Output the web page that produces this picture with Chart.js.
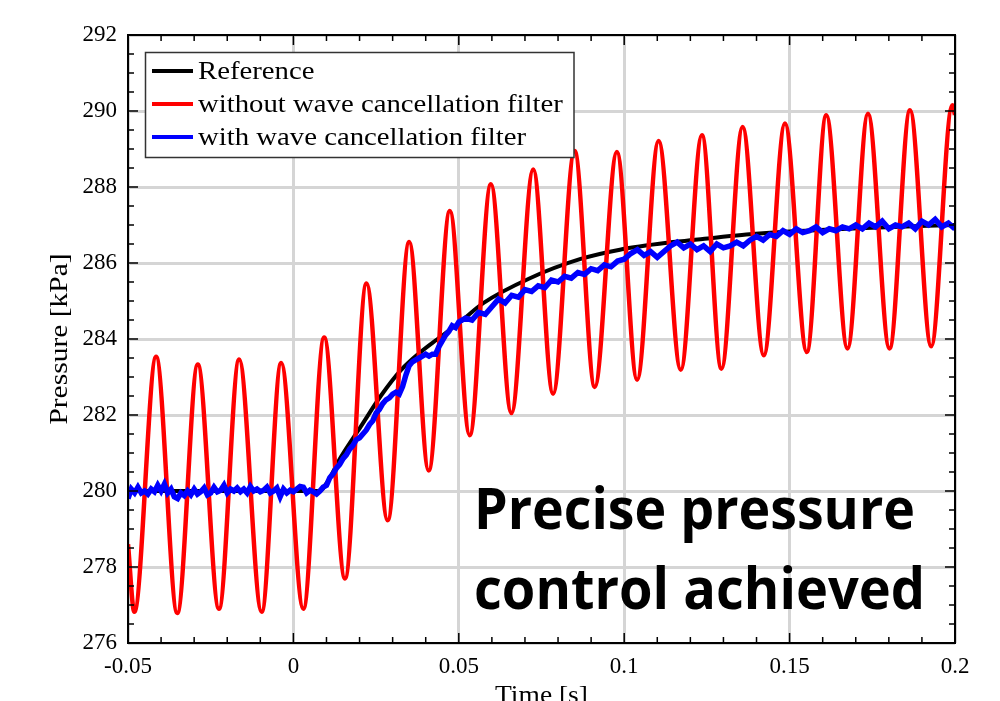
<!DOCTYPE html>
<html>
<head>
<meta charset="utf-8">
<script src="https://cdn.jsdelivr.net/npm/chart.js@4.4.0/dist/chart.umd.min.js"></script>
<style>
  html, body { margin: 0; padding: 0; background: #fff; overflow: hidden; }
</style>
</head>
<body>
<canvas id="pressureChart" width="1000" height="701"></canvas>
<script>
// Axis ticks
const xMajor = [-0.05, 0, 0.05, 0.1, 0.15, 0.2];
const xLabels = ['-0.05', '0', '0.05', '0.1', '0.15', '0.2'];
const xMinor = [-0.04, -0.03, -0.02, -0.01, 0.01, 0.02, 0.03, 0.04, 0.06, 0.07, 0.08, 0.09,
                0.11, 0.12, 0.13, 0.14, 0.16, 0.17, 0.18, 0.19];
const yMajor = [276, 278, 280, 282, 284, 286, 288, 290, 292];
const yLabels = ['276', '278', '280', '282', '284', '286', '288', '290', '292'];
const yMinor = [276.5, 277, 277.5, 278.5, 279, 279.5, 280.5, 281, 281.5, 282.5, 283, 283.5,
                284.5, 285, 285.5, 286.5, 287, 287.5, 288.5, 289, 289.5, 290.5, 291, 291.5];

// Reference (black)
const refT = [-0.05, 0.008, 0.010, 0.0144, 0.0204, 0.0264, 0.0325, 0.0385, 0.0436, 0.050,
              0.0575, 0.0715, 0.0866, 0.0987, 0.1148, 0.1268, 0.1369, 0.150, 0.175, 0.200];
const refP = [280.00, 280.00, 280.20, 280.90, 281.70, 282.50, 283.18, 283.66, 284.00, 284.42,
              284.95, 285.60, 286.10, 286.35, 286.55, 286.66, 286.75, 286.83, 286.93, 287.00];

// Without wave cancellation filter (red) - peaks and troughs
const redT = [-0.0500, -0.0481, -0.0415, -0.0351, -0.0289, -0.0225, -0.0164, -0.0096, -0.0037,
              0.0030, 0.0093, 0.0156, 0.0221, 0.0285, 0.0350, 0.0409, 0.0473, 0.0533, 0.0597,
              0.0659, 0.0725, 0.0785, 0.0850, 0.0911, 0.0978, 0.1039, 0.1104, 0.1171, 0.1235,
              0.1294, 0.1358, 0.1422, 0.1486, 0.1552, 0.1611, 0.1675, 0.1737, 0.1802, 0.1864,
              0.1928, 0.1992, 0.2000];
const redP = [278.60, 276.82, 283.53, 276.79, 283.33, 276.90, 283.46, 276.82, 283.37,
              276.90, 284.04, 277.70, 285.46, 279.23, 286.55, 280.54, 287.37, 281.47, 288.07,
              282.05, 288.46, 282.56, 288.95, 282.74, 288.92, 282.93, 289.21, 283.19, 289.36,
              283.22, 289.58, 283.57, 289.67, 283.66, 289.89, 283.75, 289.93, 283.75, 290.02,
              283.81, 290.15, 289.90];

// With wave cancellation filter (blue)
const blueT = [-0.050, -0.049, -0.048, -0.047, -0.046, -0.045, -0.044, -0.043, -0.042, -0.041,
               -0.040, -0.039, -0.038, -0.037, -0.036, -0.035, -0.034, -0.033, -0.032, -0.031,
               -0.030, -0.029, -0.028, -0.027, -0.026, -0.025, -0.024, -0.023, -0.022, -0.021,
               -0.020, -0.019, -0.018, -0.017, -0.016, -0.015, -0.014, -0.013, -0.012, -0.011,
               -0.010, -0.009, -0.008, -0.007, -0.006, -0.005, -0.004, -0.003, -0.002, -0.001,
               0.000, 0.001, 0.002, 0.003, 0.004, 0.005, 0.006, 0.007, 0.008, 0.009,
               0.010, 0.011, 0.012, 0.013, 0.014, 0.015, 0.016, 0.017, 0.018, 0.019,
               0.020, 0.021, 0.022, 0.023, 0.024, 0.025, 0.026, 0.027, 0.028, 0.029,
               0.030, 0.031, 0.032, 0.033, 0.034, 0.035, 0.036, 0.037, 0.038, 0.039,
               0.040, 0.041, 0.042, 0.043, 0.044, 0.045, 0.046, 0.047, 0.048, 0.049,
               0.050, 0.052, 0.054, 0.056, 0.058, 0.060, 0.062, 0.064, 0.066, 0.068,
               0.070, 0.072, 0.074, 0.076, 0.078, 0.080, 0.082, 0.084, 0.086, 0.088,
               0.090, 0.092, 0.094, 0.096, 0.098, 0.100, 0.102, 0.104, 0.106, 0.108,
               0.110, 0.112, 0.114, 0.116, 0.118, 0.120, 0.122, 0.124, 0.126, 0.128,
               0.130, 0.132, 0.134, 0.136, 0.138, 0.140, 0.142, 0.144, 0.146, 0.148,
               0.150, 0.152, 0.154, 0.156, 0.158, 0.160, 0.162, 0.164, 0.166, 0.168,
               0.170, 0.172, 0.174, 0.176, 0.178, 0.180, 0.182, 0.184, 0.186, 0.188,
               0.190, 0.192, 0.194, 0.196, 0.198, 0.200];
const blueP = [279.80, 280.05, 279.95, 280.10, 279.95, 280.00, 279.92, 280.05, 279.98, 280.15,
               280.00, 280.18, 279.95, 280.05, 279.85, 279.80, 279.95, 279.88, 280.00, 279.90,
               280.05, 279.92, 279.98, 280.08, 279.90, 279.95, 280.10, 279.98, 280.02, 280.15,
               279.95, 280.05, 280.00, 280.08, 279.98, 280.05, 279.95, 280.12, 280.00, 280.05,
               279.98, 280.02, 280.10, 279.95, 280.00, 280.08, 279.85, 280.05, 279.95, 280.02,
               279.98, 280.05, 280.12, 280.10, 279.95, 280.02, 279.98, 279.92, 280.00, 280.10,
               280.15, 280.35, 280.45, 280.60, 280.70, 280.85, 280.95, 281.10, 281.20, 281.35,
               281.40, 281.50, 281.60, 281.75, 281.85, 282.05, 282.15, 282.30, 282.40, 282.45,
               282.55, 282.60, 282.55, 282.75, 283.05, 283.30, 283.40, 283.45, 283.50, 283.55,
               283.60, 283.55, 283.60, 283.60, 283.80, 283.95, 284.10, 284.20, 284.35, 284.30,
               284.45, 284.55, 284.50, 284.70, 284.65, 284.85, 285.05, 284.95, 285.15, 285.10,
               285.30, 285.25, 285.40, 285.35, 285.55, 285.50, 285.65, 285.60, 285.75, 285.70,
               285.85, 285.80, 285.95, 285.90, 286.05, 286.10, 286.25, 286.35, 286.20, 286.30,
               286.15, 286.30, 286.45, 286.55, 286.40, 286.50, 286.35, 286.45, 286.30, 286.50,
               286.40, 286.45, 286.55, 286.45, 286.60, 286.70, 286.60, 286.75, 286.70, 286.85,
               286.75, 286.90, 286.80, 286.85, 286.95, 286.80, 286.90, 286.85, 286.95, 286.90,
               287.00, 286.90, 287.05, 286.95, 287.10, 286.90, 287.00, 286.95, 287.05, 286.90,
               287.10, 287.00, 287.15, 286.95, 287.05, 286.90];

const seriesNames = ['Reference', 'without wave cancellation filter', 'with wave cancellation filter'];
const seriesColors = ['#000000', '#ff0000', '#0000ff'];

const SERIF = '"Liberation Serif", "Times New Roman", serif';

function toPoints(ts, ps) {
    return ts.map((t, i) => ({ x: t, y: ps[i] }));
}

// draw text squeezed/stretched horizontally (LaTeX fonts are wider than Times)
function stretchText(ctx, text, x, y, sx, align) {
    ctx.save();
    ctx.translate(x, y);
    ctx.scale(sx, 1);
    ctx.textAlign = align;
    ctx.fillText(text, 0, 0);
    ctx.restore();
}

const framePlugin = {
    id: 'frame',
    afterDatasetsDraw(chart) {
        const { ctx, chartArea: a, scales: { x, y } } = chart;
        ctx.save();
        ctx.strokeStyle = '#000';
        ctx.lineWidth = 1.5;
        ctx.beginPath();
        const tickX = (v, len) => {
            const px = x.getPixelForValue(v);
            ctx.moveTo(px, a.bottom); ctx.lineTo(px, a.bottom - len);
            ctx.moveTo(px, a.top); ctx.lineTo(px, a.top + len);
        };
        const tickY = (v, len) => {
            const py = y.getPixelForValue(v);
            ctx.moveTo(a.left, py); ctx.lineTo(a.left + len, py);
            ctx.moveTo(a.right, py); ctx.lineTo(a.right - len, py);
        };
        xMajor.forEach(v => tickX(v, 10));
        xMinor.forEach(v => tickX(v, 6));
        yMajor.forEach(v => tickY(v, 10));
        yMinor.forEach(v => tickY(v, 6));
        ctx.stroke();
        ctx.lineWidth = 2;
        ctx.strokeRect(a.left, a.top, a.right - a.left, a.bottom - a.top);
        ctx.restore();
    },
    afterDraw(chart) {
        const { ctx, chartArea: a } = chart;
        ctx.save();
        ctx.fillStyle = '#000';
        ctx.textBaseline = 'alphabetic';

        // axis titles
        ctx.font = '25px ' + SERIF;
        stretchText(ctx, 'Time [s]', (a.left + a.right) / 2, 703, 1.1, 'center');
        ctx.save();
        ctx.translate(67, (a.top + a.bottom) / 2);
        ctx.rotate(-Math.PI / 2);
        stretchText(ctx, 'Pressure [kPa]', 0, 0, 1.18, 'center');
        ctx.restore();

        // legend box inside the axes
        ctx.fillStyle = '#fff';
        ctx.fillRect(145.5, 52.5, 428.5, 105);
        ctx.strokeStyle = '#333';
        ctx.lineWidth = 1.5;
        ctx.strokeRect(145.5, 52.5, 428.5, 105);
        const rows = [71, 104, 137];
        seriesNames.forEach((name, i) => {
            ctx.strokeStyle = seriesColors[i];
            ctx.lineWidth = 4;
            ctx.beginPath();
            ctx.moveTo(152, rows[i]);
            ctx.lineTo(193, rows[i]);
            ctx.stroke();
            ctx.fillStyle = '#000';
            stretchText(ctx, name, 198, rows[i] + 8, 1.15, 'left');
        });

        // annotation
        ctx.font = 'bold 58px "Open Sans", "Noto Sans", sans-serif';
        const l1 = 'Precise pressure', l2 = 'control achieved';
        const s1 = 441 / ctx.measureText(l1).width;
        const s2 = 451 / ctx.measureText(l2).width;
        stretchText(ctx, l1, 474, 529, s1, 'left');
        stretchText(ctx, l2, 474, 609, s2, 'left');
        ctx.restore();
    }
};

const ctx = document.getElementById('pressureChart').getContext('2d');
const chart = new Chart(ctx, {
    type: 'line',
    data: {
        datasets: [
            { label: seriesNames[0], data: toPoints(refT, refP), borderColor: seriesColors[0],
              borderWidth: 4, pointRadius: 0, cubicInterpolationMode: 'monotone', order: 3 },
            { label: seriesNames[1], data: toPoints(redT, redP), borderColor: seriesColors[1],
              borderWidth: 4.5, pointRadius: 0, cubicInterpolationMode: 'monotone', order: 2 },
            { label: seriesNames[2], data: toPoints(blueT, blueP), borderColor: seriesColors[2],
              borderWidth: 5.5, pointRadius: 0, tension: 0, order: 1 }
        ]
    },
    options: {
        responsive: false,
        animation: false,
        devicePixelRatio: 1,
        layout: { padding: { top: 35, right: 45, left: 0, bottom: 0 } },
        plugins: { legend: { display: false }, tooltip: { enabled: false } },
        scales: {
            x: {
                type: 'linear', min: -0.05, max: 0.2,
                afterBuildTicks: s => { s.ticks = xMajor.map(v => ({ value: v })); },
                afterFit: s => { s.height = 58; },
                ticks: {
                    callback: (v, i) => xLabels[i],
                    font: { family: SERIF, size: 23 }, color: '#000',
                    padding: 10, maxRotation: 0, autoSkip: false
                },
                grid: { color: '#d5d5d5', lineWidth: 3, drawTicks: false },
                border: { display: false }
            },
            y: {
                min: 276, max: 292,
                afterBuildTicks: s => { s.ticks = yMajor.map(v => ({ value: v })); },
                afterFit: s => { s.width = 128; },
                ticks: {
                    callback: (v, i) => yLabels[i],
                    font: { family: SERIF, size: 23 }, color: '#000',
                    padding: 11, autoSkip: false
                },
                grid: { color: '#d5d5d5', lineWidth: 3, drawTicks: false },
                border: { display: false }
            }
        }
    },
    plugins: [framePlugin]
});
</script>
</body>
</html>
